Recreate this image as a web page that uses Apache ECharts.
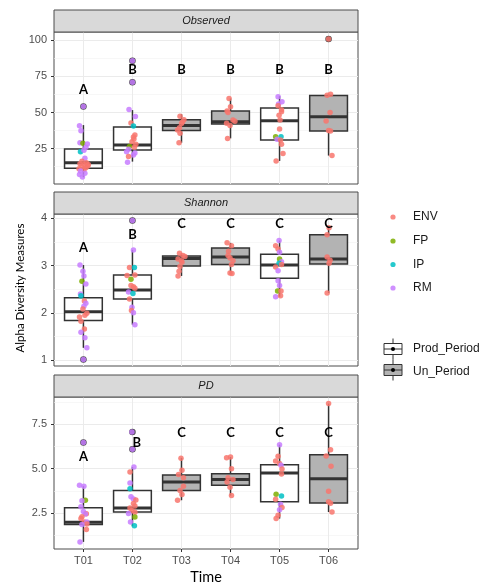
<!DOCTYPE html>
<html>
<head>
<meta charset="utf-8">
<script src="https://cdn.jsdelivr.net/npm/echarts@6/dist/echarts.min.js"></script>
<style>
html,body{margin:0;padding:0;background:#fff;}
#main{width:481px;height:586px;}
</style>
</head>
<body>
<div id="main"></div>
<script>
// ---------- data ----------
const times = ['T01', 'T02', 'T03', 'T04', 'T05', 'T06'];
const groups = ['ENV', 'FP', 'IP', 'RM'];
const periods = ['Prod_Period', 'Un_Period'];
const timePeriod = [0, 0, 1, 1, 0, 1];
const facets = ['Observed', 'Shannon', 'PD'];

// box stats: [lowerWhisker, q1, median, q3, upperWhisker]
const observedBox = [[5.2, 11.4, 15.3, 24.8, 41.3], [16.0, 24.1, 27.5, 40.0, 51.7], [29.1, 37.6, 41.1, 45.0, 48.9], [32.1, 42.0, 43.6, 51.0, 59.7], [16.5, 31.0, 44.3, 53.1, 61.3], [20.2, 37.2, 47.1, 61.8, 62.6]];
const shannonBox = [[1.26, 1.84, 2.02, 2.32, 3.01], [1.75, 2.29, 2.48, 2.80, 3.33], [2.78, 2.99, 3.15, 3.20, 3.26], [2.83, 3.02, 3.18, 3.37, 3.48], [2.34, 2.73, 3.01, 3.24, 3.53], [2.42, 3.03, 3.14, 3.65, 3.80]];
const pdBox = [[0.89, 1.86, 1.99, 2.81, 4.02], [1.77, 2.57, 2.80, 3.77, 5.10], [3.23, 3.77, 4.26, 4.65, 5.61], [3.49, 4.07, 4.39, 4.72, 5.66], [2.20, 3.14, 4.76, 5.23, 6.35], [2.57, 3.08, 4.44, 5.79, 8.66]];

// outliers: [timeIndex, value]
const observedOutliers = [[0, 54.2], [1, 85.9], [1, 71.0], [5, 101.0]];
const shannonOutliers = [[0, 1.01], [1, 3.95]];
const pdOutliers = [[0, 6.47], [1, 7.07], [1, 6.10]];

// jittered samples: [timeIndex, jitter, value, groupIndex]
const observedPoints = [
  [0,0.0,54.2,3],[0,-0.08,40.9,3],[0,-0.05,37.4,3],[0,-0.07,29.1,3],[0,-0.01,28.8,1],[0,0.08,28.2,3],[0,0.05,25.9,3],[0,-0.06,22.9,2],[0,0.01,23.8,3],[0,0.03,18.3,3],[0,-0.03,16.2,0],[0,0.06,15.2,0],[0,-0.07,14.5,0],[0,0.02,13.8,0],[0,0.09,13.0,0],[0,-0.04,12.4,0],[0,0.05,11.8,0],[0,-0.09,11.0,0],[0,0.01,10.5,0],[0,0.10,14.0,0],[0,-0.06,9.5,3],[0,0.03,8.0,3],[0,-0.08,7.0,3],[0,-0.02,5.3,3],
  [1,0,85.9,3],[1,0,71.0,3],[1,-0.07,52.1,3],[1,0.06,47.3,3],[1,-0.03,42.7,0],[1,0.02,40.6,2],[1,0.05,34.4,0],[1,0.02,33.0,0],[1,0.03,31.7,0],[1,-0.01,29.8,0],[1,0.07,28.0,0],[1,-0.06,26.4,1],[1,0.04,26.0,0],[1,-0.08,24.5,3],[1,-0.12,22.9,3],[1,0.05,22.0,3],[1,0.02,20.6,3],[1,-0.08,19.5,0],[1,-0.1,15.5,3],
  [2,-0.03,47.5,0],[2,0.05,45.0,0],[2,0.02,43.5,0],[2,0.0,42.4,0],[2,-0.04,39.5,0],[2,-0.08,37.9,0],[2,-0.03,35.6,0],[2,-0.05,29.1,0],
  [3,-0.03,59.7,0],[3,0.0,54.0,0],[3,-0.07,51.0,0],[3,-0.05,50.0,0],[3,0.05,44.8,0],[3,0.09,44.0,0],[3,-0.08,42.5,0],[3,-0.01,41.1,0],[3,-0.06,32.1,0],
  [4,-0.03,60.9,3],[4,0.05,57.4,3],[4,-0.02,56.0,3],[4,-0.03,54.7,0],[4,0.04,52.0,0],[4,0.04,50.5,0],[4,-0.01,48.2,0],[4,0.01,44.8,0],[4,0.0,38.6,0],[4,-0.08,33.3,1],[4,0.03,33.3,2],[4,-0.05,31.5,3],[4,0.02,31.0,0],[4,0.04,28.0,0],[4,0.07,21.7,0],[4,-0.07,16.5,0],
  [5,0,101,0],[5,-0.03,62.0,0],[5,0.04,62.6,0],[5,0.03,50.0,0],[5,-0.05,44.1,0],[5,0.0,37.6,0],[5,0.04,37.2,0],[5,0.07,20.2,0]
];
const shannonPoints = [
  [0,-0.07,3.01,3],[0,-0.01,2.88,3],[0,0.01,2.78,3],[0,-0.03,2.67,1],[0,0.05,2.61,3],[0,-0.06,2.40,3],[0,-0.05,2.36,2],[0,0.02,2.25,0],[0,0.05,2.20,3],[0,0.01,2.14,3],[0,-0.01,2.08,0],[0,0.07,1.99,0],[0,0.03,1.95,0],[0,-0.08,1.91,0],[0,-0.05,1.82,0],[0,0.02,1.66,0],[0,-0.05,1.59,3],[0,0.03,1.47,3],[0,0.07,1.26,3],[0,0,1.01,3],
  [1,0,3.95,3],[1,0.02,3.33,3],[1,-0.06,2.96,0],[1,0.04,2.96,2],[1,0.05,2.80,0],[1,-0.11,2.79,0],[1,-0.03,2.71,1],[1,-0.03,2.58,0],[1,0.02,2.55,0],[1,0.05,2.52,0],[1,-0.08,2.44,3],[1,0.01,2.41,2],[1,-0.06,2.29,0],[1,-0.01,2.12,3],[1,-0.02,2.05,0],[1,0.02,2.00,3],[1,0.05,1.75,3],
  [2,-0.04,3.26,0],[2,0.03,3.21,0],[2,0.07,3.19,0],[2,-0.07,3.14,0],[2,0.0,3.10,0],[2,0.01,3.07,0],[2,-0.03,2.98,0],[2,-0.05,2.88,0],[2,-0.07,2.78,0],
  [3,-0.07,3.48,0],[3,0.02,3.42,0],[3,-0.04,3.30,0],[3,-0.05,3.21,0],[3,-0.01,3.16,0],[3,0.05,3.10,0],[3,0.02,3.02,0],[3,-0.01,2.84,0],[3,0.03,2.83,0],
  [4,-0.01,3.53,3],[4,-0.08,3.42,0],[4,-0.03,3.35,0],[4,0.0,3.28,3],[4,0.0,3.14,1],[4,0.04,3.08,3],[4,-0.01,3.05,2],[4,0.04,3.02,0],[4,-0.08,2.97,0],[4,-0.03,2.89,3],[4,-0.03,2.68,3],[4,0.0,2.58,3],[4,-0.04,2.46,1],[4,0.03,2.46,0],[4,-0.08,2.34,3],[4,0.02,2.36,0],
  [5,0.01,3.80,0],[5,-0.03,3.65,0],[5,-0.03,3.18,0],[5,0.03,3.11,0],[5,0.01,3.05,0],[5,-0.03,2.42,0]
];
const pdPoints = [
  [0,0,6.47,3],[0,-0.08,4.07,3],[0,0.01,4.02,3],[0,0.04,3.23,1],[0,-0.03,3.20,3],[0,-0.05,2.87,3],[0,0.0,2.60,3],[0,0.06,2.47,0],[0,0.04,2.45,3],[0,-0.03,2.30,0],[0,-0.05,2.20,0],[0,0.02,2.01,0],[0,0.07,2.00,3],[0,0.07,1.90,0],[0,-0.03,1.87,3],[0,0.06,1.58,0],[0,-0.07,0.89,3],
  [1,-0.01,7.07,3],[1,0.0,6.10,3],[1,0.03,5.10,3],[1,-0.05,4.82,0],[1,-0.05,4.20,3],[1,-0.05,3.88,2],[1,-0.03,3.42,3],[1,0.02,3.30,3],[1,0.07,3.25,0],[1,0.02,3.04,0],[1,0.05,2.90,0],[1,-0.05,2.80,0],[1,-0.01,2.65,0],[1,-0.08,2.48,3],[1,0.05,2.55,0],[1,0.05,2.29,1],[1,-0.04,2.01,3],[1,0.04,1.79,2],
  [2,-0.01,5.59,0],[2,0.01,4.92,0],[2,-0.06,4.67,0],[2,0.04,4.50,0],[2,0.04,4.02,0],[2,-0.03,3.77,0],[2,0.01,3.55,0],[2,-0.08,3.23,0],
  [3,-0.08,5.61,0],[3,0.0,5.66,0],[3,0.02,5.00,0],[3,-0.05,4.50,0],[3,0.05,4.39,0],[3,-0.07,4.26,0],[3,-0.01,3.96,0],[3,0.02,3.49,0],
  [4,0,6.35,3],[4,-0.03,5.70,0],[4,-0.08,5.44,0],[4,0.0,5.29,0],[4,0.03,5.20,3],[4,0.05,4.98,0],[4,0.04,4.70,0],[4,-0.07,3.57,1],[4,0.04,3.47,2],[4,-0.08,3.29,0],[4,0.02,3.00,3],[4,0.05,2.82,0],[4,0.0,2.70,3],[4,-0.03,2.39,0],[4,-0.07,2.20,0],
  [5,0,8.66,0],[5,0.04,6.07,0],[5,-0.05,5.72,0],[5,0.05,5.14,0],[5,0.0,3.74,0],[5,0.0,3.14,0],[5,0.04,3.06,0],[5,0.07,2.57,0]
];

// significance letters and their heights
const observedLetters = ['A', 'B', 'B', 'B', 'B', 'B'];
const observedLetterY = [65.6, 79.8, 79.8, 79.8, 79.8, 79.8];
const shannonLetters = ['A', 'B', 'C', 'C', 'C', 'C'];
const shannonLetterY = [3.37, 3.65, 3.88, 3.88, 3.88, 3.88];
const pdLetters = ['A', 'B', 'C', 'C', 'C', 'C'];
const pdLetterY = [5.66, 6.47, 7.02, 7.02, 7.02, 7.02];
const pdLetterShift = [0, 0.09, 0, 0, 0, 0];

// axis ticks
const observedTicks = [25, 50, 75, 100];
const observedMinor = [12.5, 37.5, 62.5, 87.5];
const shannonTicks = [1, 2, 3, 4];
const shannonMinor = [1.5, 2.5, 3.5];
const pdTicks = [2.5, 5.0, 7.5];
const pdMinor = [1.25, 3.75, 6.25, 8.75];

// ---------- layout / style ----------
const groupColors = ['#F8766D', '#7CAE00', '#00BFC4', '#C77CFF'];
const periodFill = ['#ffffff', '#b3b3b3'];
const PL = 54, PW = 304, PH = 152;
const panelTops = [32, 214, 397];
const stripH = 22;
const yRanges = [[0.5, 105.8], [0.875, 4.09], [0.49, 9.03]];
const tickFont = '"Liberation Sans", Arial, sans-serif';

const boxes = [observedBox, shannonBox, pdBox];
const outliers = [observedOutliers, shannonOutliers, pdOutliers];
const pointsAll = [observedPoints, shannonPoints, pdPoints];
const lettersAll = [observedLetters, shannonLetters, pdLetters];
const letterYAll = [observedLetterY, shannonLetterY, pdLetterY];
const letterShiftAll = [[0,0,0,0,0,0], [0,0,0,0,0,0], pdLetterShift];
const majorTicks = [observedTicks, shannonTicks, pdTicks];
const minorTicks = [observedMinor, shannonMinor, pdMinor];
const tickFmt = [v => String(v), v => String(v), v => v.toFixed(1)];

const chart = echarts.init(document.getElementById('main'), null, {renderer: 'canvas'});

const grids = [], xAxes = [], yAxes = [], series = [], graphics = [];
const xVals = times.map((t, i) => i + 1);

function renderBox(params, api) {
  const x = api.value(0);
  const lo = api.coord([x, api.value(1)]);
  const q1 = api.coord([x, api.value(2)]);
  const md = api.coord([x, api.value(3)]);
  const q3 = api.coord([x, api.value(4)]);
  const hi = api.coord([x, api.value(5)]);
  const w = api.size([0.77, 0])[0];
  const cx = lo[0];
  const fill = periodFill[api.value(6)];
  const st = {stroke: '#333333', lineWidth: 1.5};
  return {
    type: 'group',
    children: [
      {type: 'line', shape: {x1: cx, y1: q3[1], x2: cx, y2: hi[1]}, style: st},
      {type: 'line', shape: {x1: cx, y1: q1[1], x2: cx, y2: lo[1]}, style: st},
      {type: 'rect', shape: {x: cx - w / 2, y: q3[1], width: w, height: q1[1] - q3[1]}, style: {fill: fill, stroke: '#333333', lineWidth: 1.5}},
      {type: 'line', shape: {x1: cx - w / 2, y1: md[1], x2: cx + w / 2, y2: md[1]}, style: {stroke: '#333333', lineWidth: 3}}
    ]
  };
}

function makeLetterRenderer(letters) {
  return function (params, api) {
    const pt = api.coord([api.value(0), api.value(1)]);
    return {
      type: 'text',
      x: pt[0], y: pt[1],
      style: {text: letters[params.dataIndex], font: 'bold 13px Lato, "Open Sans", sans-serif', fill: '#000000', align: 'center', verticalAlign: 'middle', textAlign: 'center', textVerticalAlign: 'middle'}
    };
  };
}

for (let p = 0; p < 3; p++) {
  const top = panelTops[p];
  grids.push({left: PL, top: top, width: PW, height: PH, show: true, backgroundColor: '#ffffff', borderColor: '#4d4d4d', borderWidth: 1, containLabel: false});
  const bottom = p === 2;
  xAxes.push({
    type: 'value', gridIndex: p, min: 0.4, max: 6.6,
    axisLine: {show: false},
    axisTick: {show: bottom, customValues: xVals, length: 3, lineStyle: {color: '#333333'}},
    axisLabel: {show: bottom, customValues: xVals, formatter: v => times[Math.round(v) - 1], margin: 6, fontSize: 11, color: '#4d4d4d', fontFamily: tickFont},
    splitLine: {show: true, lineStyle: {color: '#ebebeb', width: 1}}
  });
  yAxes.push({
    type: 'value', gridIndex: p, min: yRanges[p][0], max: yRanges[p][1],
    axisLine: {show: false},
    axisTick: {show: true, customValues: majorTicks[p], length: 3, lineStyle: {color: '#333333'}},
    axisLabel: {show: true, customValues: majorTicks[p], formatter: tickFmt[p], margin: 7, fontSize: 11, color: '#4d4d4d', fontFamily: tickFont},
    splitLine: {show: true, lineStyle: {color: '#ebebeb', width: 1}}
  });
  yAxes.push({
    type: 'value', gridIndex: p, min: yRanges[p][0], max: yRanges[p][1],
    axisLine: {show: false},
    axisTick: {show: false, customValues: minorTicks[p]},
    axisLabel: {show: false},
    splitLine: {show: true, lineStyle: {color: '#f2f2f2', width: 0.6}}
  });

  const yIdx = 2 * p;
  series.push({
    type: 'custom', xAxisIndex: p, yAxisIndex: yIdx, z: 2, silent: true,
    renderItem: renderBox,
    encode: {x: 0, y: [1, 2, 3, 4, 5]},
    data: boxes[p].map((b, i) => [i + 1, b[0], b[1], b[2], b[3], b[4], timePeriod[i]])
  });
  series.push({
    type: 'scatter', xAxisIndex: p, yAxisIndex: yIdx, z: 3, silent: true,
    symbolSize: 6.5, itemStyle: {color: '#1a1a1a'},
    data: outliers[p].map(o => [o[0] + 1, o[1]])
  });
  series.push({
    type: 'scatter', xAxisIndex: p, yAxisIndex: yIdx, z: 4, silent: true,
    symbolSize: 5.5,
    itemStyle: {color: params => groupColors[params.value[2]], opacity: 0.85},
    data: pointsAll[p].map(d => [d[0] + 1 + d[1], d[2], d[3]])
  });
  series.push({
    type: 'custom', xAxisIndex: p, yAxisIndex: yIdx, z: 5, silent: true, clip: false,
    renderItem: makeLetterRenderer(lettersAll[p]),
    encode: {x: 0, y: 1},
    data: lettersAll[p].map((l, i) => [i + 1 + letterShiftAll[p][i], letterYAll[p][i]])
  });

  graphics.push({type: 'rect', shape: {x: PL, y: top - stripH, width: PW, height: stripH}, style: {fill: '#d9d9d9', stroke: '#4d4d4d', lineWidth: 1}, z: 10});
  graphics.push({type: 'text', x: PL + PW / 2, y: top - stripH / 2, style: {text: facets[p], font: 'italic 11px "Liberation Sans", Arial, sans-serif', fill: '#1a1a1a', align: 'center', verticalAlign: 'middle', textAlign: 'center', textVerticalAlign: 'middle'}, z: 11});
}

graphics.push({type: 'text', x: 20, y: 288, rotation: Math.PI / 2, style: {text: 'Alpha Diversity Measures', font: '11.5px Lato, "Open Sans", sans-serif', fill: '#000000', align: 'center', verticalAlign: 'middle', textAlign: 'center', textVerticalAlign: 'middle'}});
graphics.push({type: 'text', x: 206, y: 577, style: {text: 'Time', font: '14.5px Lato, "Open Sans", sans-serif', fill: '#000000', align: 'center', verticalAlign: 'middle', textAlign: 'center', textVerticalAlign: 'middle'}});

const legY = [217, 241, 264.5, 288];
groups.forEach((g, i) => {
  graphics.push({type: 'circle', shape: {cx: 393, cy: legY[i], r: 2.6}, style: {fill: groupColors[i], opacity: 0.85}});
  graphics.push({type: 'text', x: 413, y: legY[i], style: {text: g, font: '12px "Liberation Sans", Arial, sans-serif', fill: '#1a1a1a', align: 'left', verticalAlign: 'middle', textAlign: 'left', textVerticalAlign: 'middle'}});
});
const keyY = [349, 370];
const textY = [348.5, 371.5];
periods.forEach((pn, i) => {
  const cy = keyY[i];
  graphics.push({type: 'line', shape: {x1: 393, y1: cy - 10.5, x2: 393, y2: cy + 10.5}, style: {stroke: '#333333', lineWidth: 1}});
  graphics.push({type: 'rect', shape: {x: 384, y: cy - 5.5, width: 18, height: 11}, style: {fill: periodFill[i], stroke: '#333333', lineWidth: 1}});
  graphics.push({type: 'line', shape: {x1: 384, y1: cy, x2: 402, y2: cy}, style: {stroke: '#333333', lineWidth: 1}});
  graphics.push({type: 'circle', shape: {cx: 393, cy: cy, r: 2}, style: {fill: '#000000'}});
  graphics.push({type: 'text', x: 413, y: textY[i], style: {text: pn, font: '12px "Liberation Sans", Arial, sans-serif', fill: '#1a1a1a', align: 'left', verticalAlign: 'middle', textAlign: 'left', textVerticalAlign: 'middle'}});
});

chart.setOption({
  animation: false,
  backgroundColor: '#ffffff',
  grid: grids,
  xAxis: xAxes,
  yAxis: yAxes,
  series: series,
  graphic: {elements: graphics}
});
</script>
</body>
</html>
